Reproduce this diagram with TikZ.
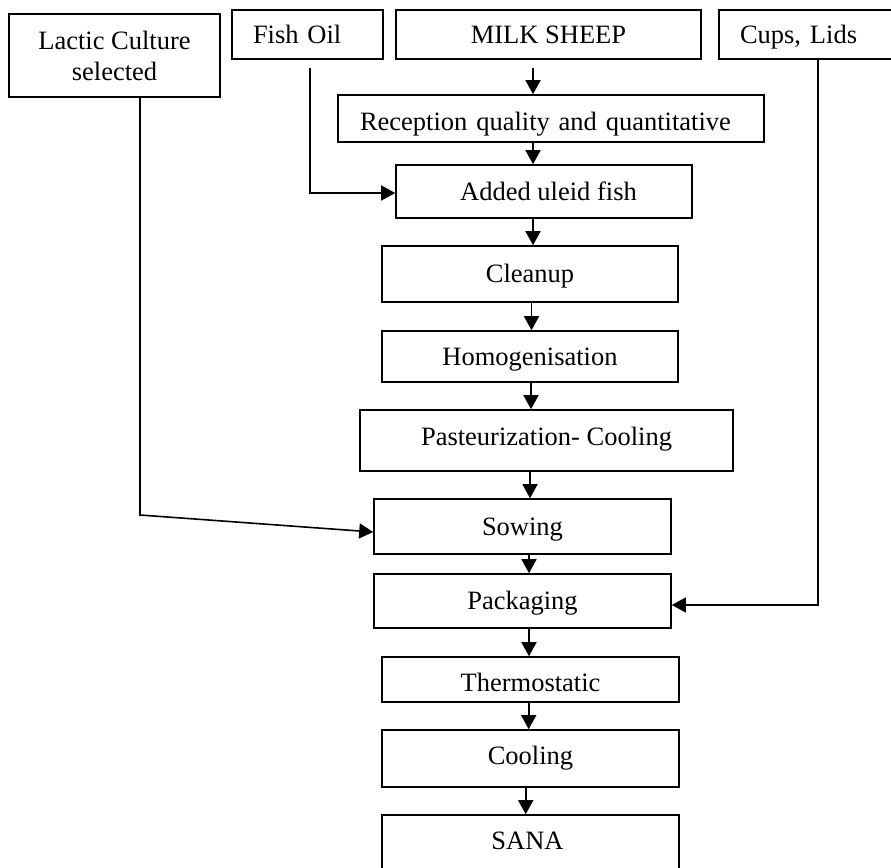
\documentclass[tikz,border=0pt]{standalone}
\usepackage{fontspec}
\setmainfont{Liberation Serif}
\usetikzlibrary{arrows.meta}
\begin{document}
\begin{tikzpicture}[x=1pt,y=-1pt,
  boxbase/.style={draw, line width=1.6pt, inner sep=0pt, font=\fontsize{26.5}{31}\selectfont},
  box/.style={boxbase, text height=17.4pt, text depth=0pt},
  arr/.style={line width=1.6pt, -{Triangle[width=15pt,length=14pt]}}]
\useasboundingbox (0,0) rectangle (891,867);
% top row
\node[boxbase, minimum width=211pt, minimum height=83pt, align=center] (lac) at (114.5,55.5) {Lactic Culture\\selected};
\node[box, text width=109pt, inner xsep=21pt, align=left, minimum height=49pt] (fish) at (307.5,34.5) {Fish Oil};
\node[box, minimum width=305pt, minimum height=49pt] (milk) at (548.5,34.5) {MILK SHEEP};
\node[box, text width=139pt, inner xsep=21pt, align=left, minimum height=49pt] (cups) at (809.5,34.5) {Cups, Lids};
% main chain
\node[box, text width=382pt, inner xsep=22pt, align=left, minimum height=47pt, text height=24pt] (rec) at (551,118.5) {Reception quality and quantitative};
\node[box, minimum width=296pt, minimum height=53pt] (add) at (544,191.5) {\hspace*{9pt}Added uleid fish};
\node[box, minimum width=296pt, minimum height=56pt] (clean) at (530,274) {Cleanup};
\node[box, minimum width=296pt, minimum height=51pt] (homo) at (530,356.5) {Homogenisation};
\node[box, minimum width=373pt, minimum height=61pt, text height=9pt] (past) at (546.5,440.5) {Pasteurization- Cooling};
\node[box, minimum width=297pt, minimum height=55pt] (sow) at (522.5,526.5) {Sowing};
\node[box, minimum width=297pt, minimum height=54pt] (pack) at (522.5,601) {Packaging};
\node[box, minimum width=297pt, minimum height=45pt, text height=23pt] (thermo) at (530.5,679.5) {Thermostatic};
\node[box, minimum width=297pt, minimum height=57pt, text height=12.2pt] (cool) at (530.5,758.5) {Cooling};
\node[box, minimum width=297pt, minimum height=60pt, text height=9.2pt] (sana) at (530.5,845) {SANA\hspace*{6pt}};
% arrow x positions
\coordinate (a1) at (533,0);
\coordinate (a2) at (533,0);
\coordinate (a3) at (533,0);
\coordinate (a4) at (531.5,0);
\coordinate (a5) at (531,0);
\coordinate (a6) at (530,0);
\coordinate (a7) at (529,0);
\coordinate (a8) at (529,0);
\coordinate (a9) at (528.7,0);
\coordinate (a10) at (525.7,0);
\draw[arr, shorten <=8pt] (milk.south -| a1) -- (rec.north -| a1);
\draw[arr] (rec.south -| a2) -- (add.north -| a2);
\draw[arr] (add.south -| a3) -- (clean.north -| a3);
\draw[arr] (clean.south -| a4) -- (homo.north -| a4);
\draw[arr] (homo.south -| a5) -- (past.north -| a5);
\draw[arr] (past.south -| a6) -- (sow.north -| a6);
\draw[arr] (sow.south -| a7) -- (pack.north -| a7);
\draw[arr] (pack.south -| a8) -- (thermo.north -| a8);
\draw[arr] (thermo.south -| a9) -- (cool.north -| a9);
\draw[arr] (cool.south -| a10) -- (sana.north -| a10);
% side inputs
\coordinate (fx) at (310,0);
\draw[arr, shorten <=8pt] (fish.south -| fx) |- ([yshift=-1.5pt]add.west);
\coordinate (lx) at (140,515);
\draw[arr] (lac.south -| lx) -- (lx) -- ([yshift=-5.5pt]sow.west);
\coordinate (cx) at (818,0);
\draw[arr, line width=1.1pt] (cups.south -| cx) |- ([yshift=-4pt]pack.east);
\end{tikzpicture}
\end{document}
